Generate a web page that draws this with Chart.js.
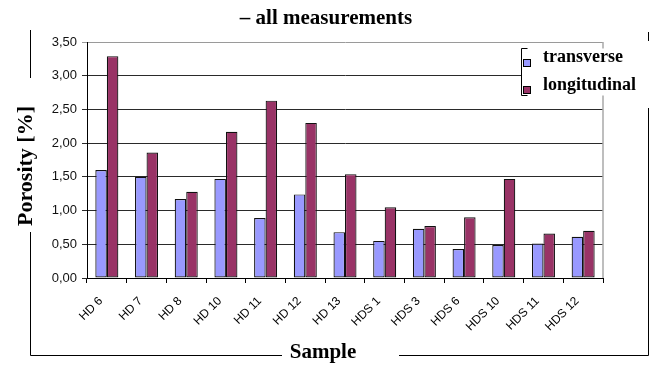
<!DOCTYPE html>
<html>
<head>
<meta charset="utf-8">
<script src="https://cdn.jsdelivr.net/npm/chart.js@4/dist/chart.umd.min.js"></script>
<style>
  html, body { margin: 0; padding: 0; background: #fff; }
  canvas { display: block; }
</style>
</head>
<body>
<canvas id="c" width="657" height="365"></canvas>
<script>
// Porosity per sample, two measuring directions
const categories = ['HD 6', 'HD 7', 'HD 8', 'HD 10', 'HD 11', 'HD 12', 'HD 13',
                    'HDS 1', 'HDS 3', 'HDS 6', 'HDS 10', 'HDS 11', 'HDS 12'];
const transverse   = [1.60, 1.50, 1.17, 1.47, 0.89, 1.24, 0.68, 0.55, 0.73, 0.43, 0.49, 0.51, 0.61];
const longitudinal = [3.29, 1.86, 1.28, 2.17, 2.63, 2.30, 1.54, 1.05, 0.77, 0.90, 1.47, 0.66, 0.70];
const seriesNames  = ['transverse', 'longitudinal'];
const seriesColors = ['#9999ff', '#993366'];
const yMin = 0, yMax = 3.5, yStep = 0.5;

const serif = '"Liberation Serif", "Times New Roman", serif';
const sans = '"Liberation Sans", Arial, sans-serif';

// Titles, surrounding frame and legend drawn on top of the plot
const decorations = {
  id: 'decorations',
  afterDraw(chart) {
    const ctx = chart.ctx;
    const area = chart.chartArea;
    ctx.save();

    // right border of the plot area
    ctx.strokeStyle = '#a8a8a8';
    ctx.lineWidth = 1.5;
    ctx.beginPath();
    ctx.moveTo(area.right, area.top);
    ctx.lineTo(area.right, area.bottom);
    ctx.stroke();

    // outer frame, interrupted by the axis titles and the legend
    ctx.strokeStyle = '#000';
    ctx.lineWidth = 1;
    ctx.beginPath();
    ctx.moveTo(30.5, 30); ctx.lineTo(30.5, 78);
    ctx.moveTo(30.5, 232); ctx.lineTo(30.5, 355.5);
    ctx.lineTo(282, 355.5);
    ctx.moveTo(399, 355.5); ctx.lineTo(648.5, 355.5);
    ctx.lineTo(648.5, 108);
    ctx.moveTo(648.5, 41); ctx.lineTo(648.5, 32);
    ctx.stroke();

    // chart title
    ctx.fillStyle = '#000';
    ctx.font = 'bold 21px ' + serif;
    ctx.textAlign = 'center';
    ctx.textBaseline = 'middle';
    ctx.fillText('\u2013 all measurements', 326, 19);

    // axis titles
    ctx.fillText('Sample', 323, 353);
    ctx.save();
    ctx.translate(26, 166);
    ctx.rotate(-Math.PI / 2);
    ctx.font = 'bold 22px ' + serif;
    ctx.fillText('Porosity [%]', 0, 0);
    ctx.restore();

    // legend box
    const lx = 521.5, ly = 48.5, lh = 47;
    ctx.fillStyle = '#fff';
    ctx.fillRect(lx, ly, 126, lh);
    ctx.strokeStyle = '#000';
    ctx.beginPath();
    ctx.moveTo(lx + 6, ly); ctx.lineTo(lx, ly); ctx.lineTo(lx, ly + lh); ctx.lineTo(lx + 6, ly + lh);
    ctx.stroke();

    ctx.font = 'bold 18px ' + serif;
    ctx.textAlign = 'left';
    ctx.textBaseline = 'alphabetic';
    const rows = [{ sy: 59, ty: 62 }, { sy: 86, ty: 90 }];
    seriesNames.forEach((name, i) => {
      ctx.fillStyle = seriesColors[i];
      ctx.fillRect(523.5, rows[i].sy + 0.5, 7, 7);
      ctx.strokeStyle = '#000';
      ctx.strokeRect(523.5, rows[i].sy + 0.5, 7, 7);
      ctx.fillStyle = '#000';
      ctx.fillText(name, 543, rows[i].ty);
    });
    ctx.restore();
  }
};

new Chart(document.getElementById('c'), {
  type: 'bar',
  data: {
    labels: categories,
    datasets: [
      { label: seriesNames[0], data: transverse, backgroundColor: seriesColors[0] },
      { label: seriesNames[1], data: longitudinal, backgroundColor: seriesColors[1] }
    ].map(d => Object.assign(d, {
      borderColor: '#111',
      borderWidth: 1.2,
      borderSkipped: false,
      categoryPercentage: 0.58,
      barPercentage: 1.0
    }))
  },
  options: {
    responsive: false,
    animation: false,
    devicePixelRatio: 1,
    layout: { padding: { left: 0, right: 54, top: 42, bottom: 0 } },
    plugins: {
      legend: { display: false },
      title: { display: false },
      tooltip: { enabled: false }
    },
    scales: {
      x: {
        afterFit(scale) { scale.height = 87; },
        border: { color: '#000', width: 1 },
        grid: {
          offset: true,
          drawOnChartArea: false,
          drawTicks: true,
          tickLength: 5,
          color: '#000'
        },
        ticks: {
          autoSkip: false,
          maxRotation: 45,
          minRotation: 45,
          padding: 11,
          labelOffset: -6,
          color: '#000',
          font: { family: sans, size: 12 }
        }
      },
      y: {
        min: yMin,
        max: yMax,
        afterFit(scale) { scale.width = 87; },
        border: { color: '#000', width: 1 },
        grid: {
          drawTicks: true,
          tickLength: 5,
          color: ctx => (ctx.tick && ctx.tick.value === yMax) ? '#9a9a9a' : '#2a2a2a'
        },
        ticks: {
          stepSize: yStep,
          padding: 5,
          color: '#111',
          font: { family: sans, size: 13 },
          callback: v => Number(v).toFixed(2).replace('.', ',')
        }
      }
    }
  },
  plugins: [decorations]
});
</script>
</body>
</html>
